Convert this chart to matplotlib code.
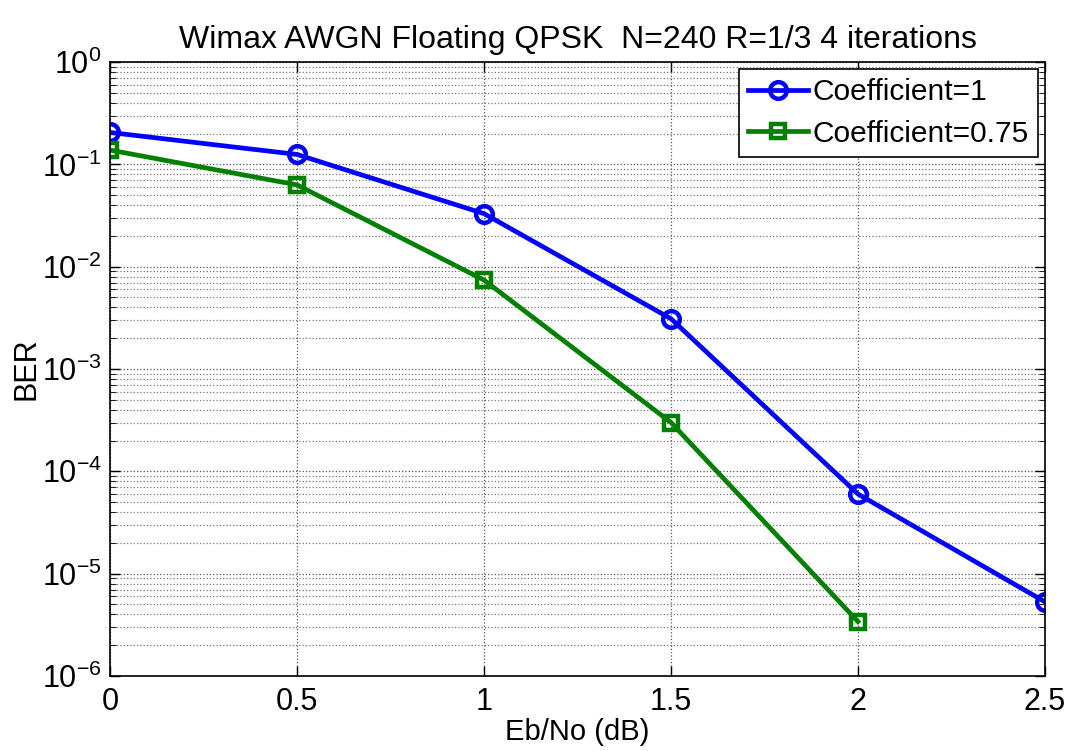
import matplotlib
matplotlib.use('Agg')
import matplotlib.pyplot as plt
from matplotlib.ticker import NullFormatter

plt.rcParams['font.family'] = ['Liberation Sans', 'DejaVu Sans']
plt.rcParams['mathtext.fontset'] = 'custom'
plt.rcParams['mathtext.rm'] = 'Liberation Sans'

ebno = [0, 0.5, 1, 1.5, 2, 2.5]
ber_c1 = [0.205, 0.125, 0.033, 0.0031, 6.0e-5, 5.3e-6]
ebno_c075 = [0, 0.5, 1, 1.5, 2]
ber_c075 = [0.138, 0.063, 0.0074, 3.0e-4, 3.4e-6]
exps = [-6, -5, -4, -3, -2, -1, 0]

fig = plt.figure(figsize=(10.74, 7.51), dpi=100)
ax = fig.add_axes([0.1024, 0.0999, 0.8706, 0.8175])

ax.semilogy(ebno, ber_c1, '-o', color='#0000ff', lw=3.4, ms=12, mew=3.2,
            mfc='none', label='Coefficient=1')
ax.semilogy(ebno_c075, ber_c075, '-s', color='#008000', lw=3.4, ms=10.5, mew=3.2,
            mfc='none', label='Coefficient=0.75')

ax.set_xlim(0, 2.5)
ax.set_ylim(1e-6, 1e0)
ax.set_xticks([0, 0.5, 1, 1.5, 2, 2.5])
ax.set_xticklabels(['0', '0.5', '1', '1.5', '2', '2.5'])
ax.set_yticks([10.0 ** e for e in exps])
ax.set_yticklabels([r'$\mathregular{10^{%d}}$' % e for e in exps])
ax.set_yticks([m * 10.0 ** e for e in exps[:-1] for m in range(2, 10)], minor=True)
ax.yaxis.set_minor_formatter(NullFormatter())

ax.grid(True, which='major', ls=':', color='#555555', lw=0.9)
ax.grid(True, which='minor', axis='y', ls=':', color='#777777', lw=0.9)
ax.tick_params(which='both', direction='in', top=True, right=True, labelsize=22)
ax.tick_params(which='major', length=7, width=1, pad=6)
ax.tick_params(axis='x', which='major', pad=8)
ax.tick_params(which='minor', length=4)
for s in ax.spines.values():
    s.set_linewidth(1.2)

ax.set_title('Wimax AWGN Floating QPSK  N=240 R=1/3 4 iterations', fontsize=23, pad=10)
ax.set_xlabel('Eb/No (dB)', fontsize=21, labelpad=1)
ax.set_ylabel('BER', fontsize=22, labelpad=0)

leg = ax.legend(loc='upper right', fontsize=21.5, fancybox=False, framealpha=1,
                edgecolor='black', handlelength=2.0, handletextpad=0.15,
                borderaxespad=0.25, labelspacing=0.45, borderpad=0.3)
leg.get_frame().set_linewidth(1.2)

fig.savefig('out.png', dpi=100)
